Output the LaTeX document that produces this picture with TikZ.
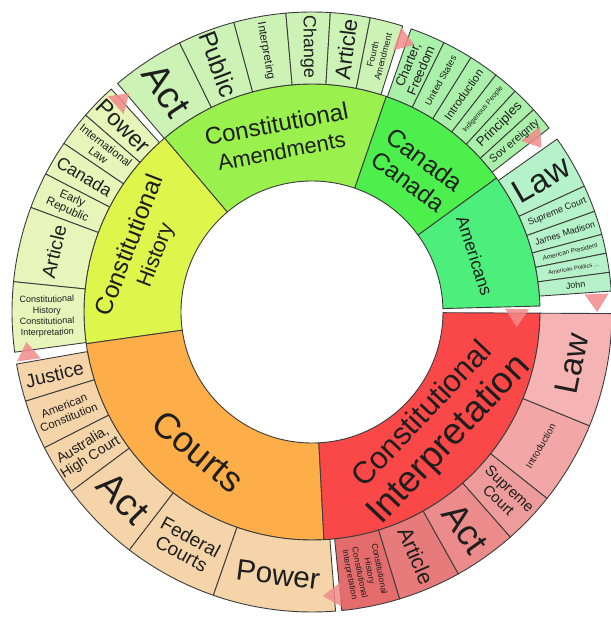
\documentclass[tikz,border=0pt]{standalone}
\usepackage{fontspec}
\setmainfont{Liberation Sans}
\definecolor{edge}{HTML}{3C3C3C}
\definecolor{txt}{HTML}{1E1E1E}
\definecolor{trif}{HTML}{F28A8A}
\definecolor{amM}{HTML}{4CEE7C}
\definecolor{caM}{HTML}{4CEF4C}
\definecolor{aeM}{HTML}{9AF04C}
\definecolor{hiM}{HTML}{DEF54C}
\definecolor{coM}{HTML}{FDAE48}
\definecolor{ciM}{HTML}{FA4848}
\definecolor{amO}{HTML}{B5F1C9}
\definecolor{caO}{HTML}{AAF0AA}
\definecolor{aeO}{HTML}{CCF2B6}
\definecolor{hiO}{HTML}{E7F4BA}
\definecolor{coO}{HTML}{F4D4A8}
\definecolor{ciA}{HTML}{F5B3B3}
\definecolor{ciB}{HTML}{F2A6A6}
\definecolor{ciC}{HTML}{EE9B9B}
\definecolor{ciD}{HTML}{EB8B8B}
\definecolor{ciE}{HTML}{E77B7B}
\definecolor{ciF}{HTML}{E46C6C}
\newcommand\cell[5]{\filldraw[cellst, fill=#5] (#1:#3pt) arc[start angle=#1,end angle=#2,radius=#3pt] -- (#2:#4pt) arc[start angle=#2,end angle=#1,radius=#4pt] -- cycle;}
\newcommand\fsz[1]{\fontsize{#1}{#1}\selectfont}
\newcommand\tri[2]{\begin{scope}[shift={(#1:#2pt)},rotate=#1-90]\fill[trimark] (10pt,0pt) -- (-8pt,12pt) -- (-8pt,-12pt) -- cycle;\end{scope}}
\begin{document}
\begin{tikzpicture}[x=1pt,y=1pt,
  cellst/.style={draw=edge, line width=0.9pt, line join=round},
  lab/.style={inner sep=0pt, text=txt, align=center},
  trimark/.style={fill=trif, fill opacity=0.85}]
\useasboundingbox (-312,-305) rectangle (298,312);
% middle ring
\cell{1.5}{36}{131}{228}{amM}
\cell{36}{71}{131}{228}{caM}
\cell{71}{130.3}{131}{228}{aeM}
\cell{130.3}{188}{131}{228}{hiM}
\cell{188}{273}{131}{228}{coM}
\cell{-87}{-0.3}{131}{228}{ciM}
% outer ring: Americans
\cell{24.8}{35.2}{228}{300}{amO}
\cell{19.6}{24.8}{228}{300}{amO}
\cell{15}{19.6}{228}{300}{amO}
\cell{11.3}{15}{228}{300}{amO}
\cell{7.6}{11.3}{228}{300}{amO}
\cell{4}{7.6}{228}{300}{amO}
% Canada
\cell{63.9}{70.7}{228}{300}{caO}
\cell{58}{63.9}{228}{300}{caO}
\cell{52.2}{58}{228}{300}{caO}
\cell{47.4}{52.2}{228}{300}{caO}
\cell{42.4}{47.4}{228}{300}{caO}
\cell{37.8}{42.4}{228}{300}{caO}
% Amendments
\cell{116.2}{130.4}{228}{300}{aeO}
\cell{105.1}{116.2}{228}{300}{aeO}
\cell{95}{105.1}{228}{300}{aeO}
\cell{86.5}{95}{228}{300}{aeO}
\cell{78.8}{86.5}{228}{300}{aeO}
\cell{72.4}{78.8}{228}{300}{aeO}
% History
\cell{132}{139}{228}{300}{hiO}
\cell{139}{145.8}{228}{300}{hiO}
\cell{145.8}{152.6}{228}{300}{hiO}
\cell{152.6}{159.6}{228}{300}{hiO}
\cell{159.6}{174.2}{228}{300}{hiO}
\cell{174.2}{187.7}{228}{300}{hiO}
% Courts
\cell{190}{197.3}{228}{300}{coO}
\cell{197.3}{206.9}{228}{300}{coO}
\cell{206.9}{216.7}{228}{300}{coO}
\cell{216.7}{232.5}{228}{300}{coO}
\cell{232.5}{250.8}{228}{300}{coO}
\cell{250.8}{274.5}{228}{300}{coO}
% Constitutional Interpretation
\cell{-84.3}{-73}{228}{300}{ciF}
\cell{-73}{-60.8}{228}{300}{ciE}
\cell{-60.8}{-48.6}{228}{300}{ciD}
\cell{-48.6}{-38.4}{228}{300}{ciC}
\cell{-38.4}{-22.3}{228}{300}{ciB}
\cell{-22.3}{-0.3}{228}{300}{ciA}
% markers
\tri{188}{287}
\tri{131.9}{285}
\tri{71.05}{286}
\tri{37.6}{282}
\tri{-1.4}{205}
\tri{2}{285}
\tri{-85.8}{284}
% middle labels
\node[lab, rotate=10.7, font=\fontsize{24}{27}\selectfont] (mAmend) at (100.7:178pt) {Constitutional\\{\fsz{22}Amendments}};
\node[lab, rotate=-36.5, font=\fontsize{25}{27}\selectfont] (mCanada) at (53.5:176pt) {Canada\\{\fsz{24}Canada}};
\node[lab, rotate=-72, font=\fsz{17.5}] (mAmer) at (19:172pt) {Americans};
\node[lab, rotate=69, font=\fontsize{24.5}{27}\selectfont] (mHist) at (160:180pt) {Constitutional\\{\fsz{21.5}History}};
\node[lab, rotate=-39.5, font=\fsz{36}] (mCourts) at (230.8:180pt) {Courts};
\node[lab, rotate=46.5, font=\fontsize{31}{38}\selectfont] (mCI) at (-43:171pt) {Constitutional\\{\fsz{37}Interpretation}};
% Americans labels
\node[lab, rotate=30, font=\fsz{33}] (aLaw) at (30:265pt) {Law};
\node[lab, rotate=22.2, font=\fsz{9.2}] (aSC) at (22.2:265pt) {Supreme Court};
\node[lab, rotate=17.3, font=\fsz{8.9}] (aJM) at (17.3:265pt) {James Madison};
\node[lab, rotate=13.15, font=\fsz{6.4}] (aAP) at (13.15:265pt) {American President};
\node[lab, rotate=9.45, font=\fsz{5.8}] (aAPo) at (9.45:265pt) {American Politics ...};
\node[lab, rotate=5.8, font=\fsz{9}] (aJohn) at (5.8:265pt) {John};
% Canada labels
\node[lab, rotate=67.3, font=\fontsize{13}{14}\selectfont] (cCF) at (67.3:265pt) {Charter,\\Freedom};
\node[lab, rotate=60.95, font=\fsz{9.2}] (cUS) at (60.95:265pt) {United States};
\node[lab, rotate=55.1, font=\fsz{11.3}] (cIn) at (55.1:265pt) {Introduction};
\node[lab, rotate=49.8, font=\fsz{7}] (cIP) at (49.8:265pt) {Indigenous People};
\node[lab, rotate=44.9, font=\fsz{13.3}] (cPr) at (44.9:265pt) {Principles};
\node[lab, rotate=40.1, font=\fsz{11}] (cSo) at (40.1:265pt) {Sov ereignty};
% Amendments labels
\node[lab, rotate=-56.7, font=\fsz{38}] (eAct) at (123.3:265pt) {Act};
\node[lab, rotate=-69.35, font=\fsz{25}] (ePub) at (110.65:265pt) {Public};
\node[lab, rotate=-79.95, font=\fsz{11.5}] (eInt) at (100.05:265pt) {Interpreting};
\node[lab, rotate=-89.25, font=\fsz{17.8}] (eCh) at (90.75:265pt) {Change};
\node[lab, rotate=82.65, font=\fsz{22}] (eArt) at (82.65:265pt) {Article};
\node[lab, rotate=75.6, font=\fontsize{9}{10.5}\selectfont] (eFA) at (75.6:265pt) {Fourth\\Amendment};
% History labels
\node[lab, rotate=-44.5, font=\fsz{23}] (hPow) at (135.5:265pt) {Power};
\node[lab, rotate=-37.6, font=\fontsize{11.3}{12.5}\selectfont] (hIL) at (142.4:265pt) {International\\Law};
\node[lab, rotate=-30.8, font=\fsz{17.4}] (hCan) at (149.2:265pt) {Canada};
\node[lab, rotate=-23.9, font=\fontsize{11.6}{12.5}\selectfont] (hER) at (156.1:265pt) {Early\\Republic};
\node[lab, rotate=76.9, font=\fsz{19.4}] (hArt) at (166.9:265pt) {Article};
\node[lab, rotate=0.95, font=\fontsize{9}{11}\selectfont] (hCC) at (180.95:265pt) {Constitutional\\History\\Constitutional\\Interpretation};
% Courts labels
\node[lab, rotate=13.65, font=\fsz{19}] (kJus) at (193.65:265pt) {Justice};
\node[lab, rotate=22.1, font=\fontsize{11.5}{12.5}\selectfont] (kAC) at (202.1:265pt) {American\\Constitution};
\node[lab, rotate=31.8, font=\fontsize{14}{14.5}\selectfont] (kAHC) at (211.8:265pt) {Australia,\\High Court};
\node[lab, rotate=-45.4, font=\fsz{38}] (kAct) at (224.6:265pt) {Act};
\node[lab, rotate=-28.35, font=\fontsize{19}{19}\selectfont] (kFC) at (241.65:265pt) {Federal\\Courts};
\node[lab, rotate=-7.35, font=\fsz{29.6}] (kPow) at (262.65:265pt) {Power};
% Constitutional Interpretation labels
\node[lab, rotate=-78.65, font=\fontsize{8.5}{10}\selectfont] (iCC) at (-78.65:265pt) {Constitutional\\History\\Constitutional\\Interpretation};
\node[lab, rotate=-66.9, font=\fsz{21.5}] (iArt) at (-66.9:265pt) {Article};
\node[lab, rotate=-54.7, font=\fsz{36}] (iAct) at (-54.7:265pt) {Act};
\node[lab, rotate=-43.5, font=\fontsize{15}{16}\selectfont] (iSC) at (-43.5:265pt) {Supreme\\Court};
\node[lab, rotate=59.65, font=\fsz{9.5}] (iInt) at (-30.35:265pt) {Introduction};
\node[lab, rotate=78.7, font=\fsz{33}] (iLaw) at (-11.3:265pt) {Law};
\end{tikzpicture}
\end{document}
